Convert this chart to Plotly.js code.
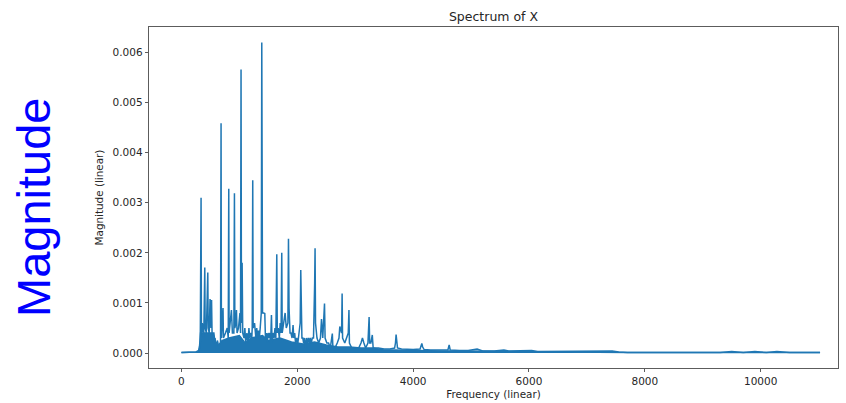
<!DOCTYPE html>
<html>
<head>
<meta charset="utf-8">
<script src="https://cdn.plot.ly/plotly-3.0.1.min.js"></script>
<style>html,body{margin:0;padding:0;background:#fff;overflow:hidden;}</style>
</head>
<body>
<div id="chart" style="width:846px;height:403px;"></div>
<script>
// Spectrum line: frequency (Hz) and magnitude
var freq = [0,150,250,300,325,339,345,360,385,403,410,430,455,462,480,494,500,510,520,530,560,580,600,620,650,675,684,690,718,725,760,790,808,817,823,863,880,905,915,922,940,950,960,985,1010,1020,1029,1036,1048,1058,1080,1095,1110,1130,1150,1165,1180,1200,1215,1222,1231,1238,1262,1275,1285,1300,1315,1330,1345,1360,1378,1387,1392,1400,1420,1439,1450,1465,1480,1495,1510,1525,1540,1554,1565,1580,1600,1615,1630,1646,1655,1670,1690,1705,1720,1732,1740,1760,1790,1810,1838,1848,1858,1875,1890,1910,1927,1940,1955,1970,1990,2010,2030,2050,2060,2066,2080,2095,2110,2125,2140,2160,2175,2193,2210,2225,2240,2260,2280,2300,2307,2315,2340,2370,2400,2418,2440,2470,2480,2510,2540,2570,2605,2615,2650,2690,2720,2734,2765,2774,2782,2820,2850,2880,2892,2900,2940,2980,3020,3060,3100,3125,3150,3180,3220,3240,3250,3270,3295,3310,3350,3400,3500,3600,3680,3695,3706,3715,3730,3800,3900,4000,4120,4140,4150,4165,4190,4300,4450,4600,4622,4640,4800,4950,5105,5200,5400,5567,5650,5850,6045,6150,6400,6700,7000,7300,7437,7550,7700,8200,8800,9300,9500,9700,9900,10100,10280,10500,11025];
var mag  = [0.00001,0.00002,0.00002,0.00005,0.0002,0.0031,0.0004,0.0006,0.0003,0.00171,0.0005,0.0004,0.00161,0.0005,0.0004,0.00108,0.0006,0.0005,0.00106,0.0003,0.0002,0.0003,0.0001,0.00025,0.0001,0.0002,0.00459,0.0003,0.0009,0.0003,0.0004,0.0005,0.0003,0.00328,0.0004,0.00086,0.0004,0.0004,0.00319,0.0005,0.0006,0.00086,0.0004,0.0005,0.0008,0.0004,0.00566,0.0006,0.0018,0.0004,0.0003,0.0005,0.0002,0.0004,0.0002,0.0005,0.0003,0.0004,0.0003,0.0005,0.00345,0.0005,0.0006,0.0003,0.0003,0.0005,0.0003,0.00045,0.0003,0.0005,0.0008,0.0062,0.0045,0.0008,0.0008,0.00079,0.0003,0.0004,0.0002,0.0004,0.0003,0.0004,0.0002,0.00076,0.0002,0.0004,0.0003,0.0005,0.0003,0.00197,0.0004,0.0005,0.0003,0.0006,0.0004,0.002,0.0004,0.0006,0.0008,0.0005,0.0006,0.00228,0.0009,0.0004,0.0004,0.0003,0.00056,0.0003,0.0004,0.0002,0.0003,0.0002,0.0004,0.0006,0.00166,0.0012,0.0003,0.0003,0.0002,0.0003,0.0001,0.0003,0.0002,0.0003,0.0002,0.0003,0.0002,0.0003,0.0003,0.0014,0.00209,0.0006,0.0003,0.0002,0.0003,0.00068,0.0003,0.00099,0.0003,0.0002,0.0002,0.0001,0.00039,0.0001,0.0001,0.0002,0.0003,0.00053,0.0004,0.00119,0.0003,0.0002,0.0003,0.0004,0.00086,0.0002,0.0001,0.0001,0.0001,0.0001,0.0002,0.0003,0.0002,0.0001,0.0002,0.00072,0.0002,0.0002,0.00036,0.0001,0.0001,0.0001,0.00008,0.00008,0.0001,0.0002,0.00037,0.0002,0.0001,0.00008,0.00007,0.00007,0.00008,0.00015,0.00019,0.00012,0.00007,0.00006,0.00006,0.00006,0.00016,0.00006,0.00005,0.00005,0.00008,0.00004,0.00004,0.00006,0.00004,0.00004,0.00005,0.00003,0.00003,0.00003,0.00003,0.00003,0.00004,0.00002,0.00001,0.00001,0.00001,0.00001,0.00003,0.00001,0.00003,0.00001,0.00003,0.00001,0.00001];
// Dense noise floor (upper edge of the solid band)
var floorFreq = [0,290,310,330,560,580,640,700,820,1000,1100,1200,1400,1500,1700,1900,2100,2300,2500,2700,2900,3100,3300,3500,3700,4000,4500,5000,6000,7000,7600,7700,11025];
var floorMag  = [0.00001,0.00002,0.0001,0.0004,0.0004,0.0002,0.00015,0.00025,0.0003,0.00035,0.0002,0.0003,0.00035,0.00025,0.0003,0.00022,0.00018,0.00022,0.00016,0.00012,0.00012,0.0001,0.0001,0.00006,0.00006,0.00005,0.00004,0.00004,0.00003,0.00003,0.00002,0.00001,0.00001];
var yTicks = [0,0.001,0.002,0.003,0.004,0.005,0.006];
var xTicks = [0,2000,4000,6000,8000,10000];

var blue = '#1f77b4';
var traces = [
  {x: floorFreq, y: floorMag, type: 'scatter', mode: 'lines', fill: 'tozeroy',
   fillcolor: blue, line: {color: blue, width: 1.5}, hoverinfo: 'skip'},
  {x: freq, y: mag, type: 'scatter', mode: 'lines', line: {color: blue, width: 1.5}}
];
var tickFont = {family: 'DejaVu Sans, sans-serif', size: 10.5, color: '#262626'};
var layout = {
  width: 846, height: 403,
  margin: {l: 149, r: 8, t: 27, b: 35},
  paper_bgcolor: '#ffffff', plot_bgcolor: '#ffffff',
  showlegend: false,
  title: {text: 'Spectrum of X', font: {family: 'DejaVu Sans, sans-serif', size: 12.5, color: '#262626'},
          x: 0.5, xref: 'paper', y: 1, yref: 'paper', yanchor: 'bottom', pad: {b: 6}},
  xaxis: {range: [-560, 11335], tickvals: xTicks, ticktext: xTicks.map(String),
          ticks: 'outside', ticklen: 3.5, tickwidth: 0.8, tickcolor: '#333',
          showline: true, mirror: true, linecolor: '#333', linewidth: 0.8,
          showgrid: false, zeroline: false, tickfont: tickFont,
          title: {text: 'Frequency (linear)', font: {family: 'DejaVu Sans, sans-serif', size: 10.4, color: '#262626'}, standoff: 4}},
  yaxis: {range: [-0.000299, 0.00651], tickvals: yTicks, ticktext: yTicks.map(function(v){return v.toFixed(3);}),
          ticks: 'outside', ticklen: 3.5, tickwidth: 0.8, tickcolor: '#333',
          showline: true, mirror: true, linecolor: '#333', linewidth: 0.8,
          showgrid: false, zeroline: false, tickfont: tickFont,
          title: {text: 'Magnitude (linear)', font: {family: 'DejaVu Sans, sans-serif', size: 10.4, color: '#262626'}, standoff: 6}},
  annotations: [{text: 'Magnitude', xref: 'paper', yref: 'paper', x: -0.1684, y: 0.472,
                 xanchor: 'center', yanchor: 'middle', textangle: -90, showarrow: false,
                 font: {family: 'Liberation Sans, Arial, sans-serif', size: 47, color: '#0000ff'}}]
};
Plotly.newPlot('chart', traces, layout, {displayModeBar: false, staticPlot: true});
</script>
</body>
</html>
